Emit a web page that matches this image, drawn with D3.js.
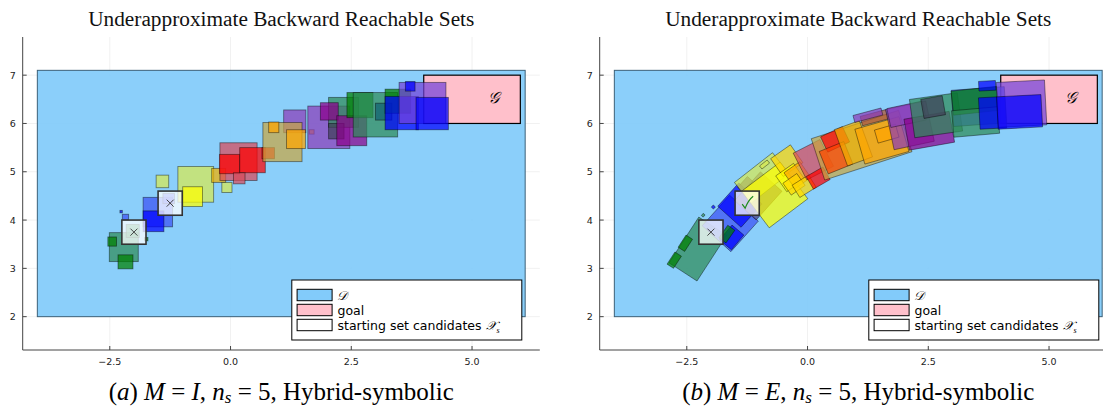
<!DOCTYPE html>
<html>
<head>
<meta charset="utf-8">
<script src="https://cdn.jsdelivr.net/npm/d3@7"></script>
<style>
body { margin: 0; background: #fff; }
text { font-family: "DejaVu Sans", sans-serif; }
.serif { font-family: "Liberation Serif", "Times New Roman", serif; }
</style>
</head>
<body>
<svg class="main" width="1103" height="410"></svg>
<script>
// domain D and goal G, as [x0, x1, y0, y1]
var domainBox = [-4, 6.1, 2, 7.1];
var goalBox = [4, 6, 6, 7];

var xTicks = [-2.5, 0, 2.5, 5];
var yTicks = [2, 3, 4, 5, 6, 7];

// starting set candidates, [x0, x1, y0, y1]
var startBoxes = [[-2.25, -1.75, 3.5, 4.0], [-1.5, -1.0, 4.1, 4.6]];
var startOkA = [false, false];
var startOkB = [false, true];

// (a) axis aligned boxes: [x0, x1, y0, y1, group]
var boxesA = [
    [-2.51, -1.91, 3.14, 3.74, "sg"],
    [-2.54, -2.36, 3.46, 3.65, "gr"],
    [-2.33, -2.02, 2.99, 3.28, "gr"],
    [-2.16, -1.89, 3.64, 3.91, "sg"],
    [-1.78, -1.71, 3.57, 3.64, "gr"],
    [-2.24, -2.11, 4.01, 4.12, "rb"],
    [-2.29, -2.24, 4.15, 4.20, "bl"],
    [-1.81, -1.20, 3.86, 4.47, "rb"],
    [-1.81, -1.38, 3.76, 4.19, "bl"],
    [-1.40, -1.16, 4.34, 4.55, "rb"],
    [-1.54, -1.28, 4.67, 4.93, "yg"],
    [-1.09, -0.35, 4.37, 5.11, "yg"],
    [-0.99, -0.58, 4.28, 4.69, "ye"],
    [-0.39, -0.10, 4.78, 5.07, "go"],
    [-0.18, 0.03, 4.57, 4.78, "yg"],
    [-0.22, 0.55, 4.82, 5.60, "ro"],
    [-0.23, 0.19, 4.96, 5.36, "re"],
    [0.19, 0.72, 4.98, 5.50, "re"],
    [0.06, 0.30, 4.75, 4.98, "ro"],
    [0.65, 0.91, 5.27, 5.50, "re"],
    [1.10, 1.56, 5.81, 6.28, "pu"],
    [0.67, 1.48, 5.21, 6.02, "tn"],
    [0.79, 1.00, 5.81, 6.03, "or"],
    [1.16, 1.55, 5.48, 5.87, "or"],
    [1.63, 1.73, 5.78, 5.87, "or"],
    [1.60, 2.47, 5.48, 6.36, "pu"],
    [2.03, 2.65, 5.92, 6.54, "sg"],
    [1.86, 2.23, 6.07, 6.43, "mg"],
    [2.03, 2.35, 5.68, 6.00, "gy"],
    [2.20, 2.82, 5.54, 6.16, "mg"],
    [2.41, 2.95, 6.12, 6.64, "gr"],
    [2.54, 3.46, 5.72, 6.64, "sg"],
    [3.00, 3.34, 6.07, 6.42, "te"],
    [3.20, 3.73, 6.21, 6.71, "gr"],
    [3.20, 3.89, 5.87, 6.56, "bl"],
    [3.49, 4.46, 6.00, 6.85, "sl"],
    [3.84, 4.51, 5.87, 6.54, "bl"],
    [3.62, 3.82, 6.67, 6.87, "bl"]
];

// (b) rotated boxes: [cx, cy, along, across, angle (deg), group]
var boxesB = [
    [-2.27, 3.40, 1.13, 0.69, 57, "sg"],
    [-2.76, 3.17, 0.30, 0.16, 57, "gr"],
    [-2.53, 3.52, 0.30, 0.16, 57, "gr"],
    [-1.60, 3.93, 0.85, 0.80, 48, "rb"],
    [-1.40, 4.31, 0.65, 0.65, 48, "bl"],
    [-1.57, 3.64, 0.40, 0.32, 50, "bl"],
    [-1.67, 3.71, 0.32, 0.18, 55, "gr"],
    [-1.95, 4.27, 0.06, 0.06, 48, "bl"],
    [-2.16, 4.10, 0.06, 0.05, 50, "sg"],
    [-1.02, 4.50, 0.80, 0.60, 48, "ds"],
    [-1.29, 4.74, 0.30, 0.15, 48, "ds"],
    [-0.95, 4.87, 1.00, 0.55, 38, "yg"],
    [-0.68, 4.52, 1.00, 0.95, 37, "ye"],
    [-0.89, 5.15, 0.20, 0.08, 38, "yg"],
    [-0.43, 5.23, 0.50, 0.45, 35, "gd"],
    [-0.36, 4.88, 0.45, 0.40, 35, "ye"],
    [-0.21, 4.93, 0.40, 0.40, 35, "or"],
    [-0.28, 4.74, 0.35, 0.30, 35, "gd"],
    [-0.07, 4.70, 0.40, 0.30, 32, "gd"],
    [0.12, 5.25, 0.62, 0.62, 27, "ro"],
    [0.22, 4.87, 0.40, 0.30, 30, "re"],
    [1.12, 5.55, 1.90, 0.90, 18, "tn"],
    [0.57, 5.67, 0.50, 0.35, 25, "re"],
    [0.59, 5.29, 0.55, 0.50, 22, "ob"],
    [0.95, 5.59, 0.55, 0.80, 20, "go"],
    [1.54, 5.65, 0.95, 0.75, 16, "or"],
    [1.64, 5.79, 0.45, 0.28, 16, "or"],
    [1.38, 6.12, 0.55, 0.20, 15, "si"],
    [1.25, 6.17, 0.60, 0.15, 15, "pu"],
    [2.12, 5.96, 0.85, 0.85, 12, "pu"],
    [2.05, 6.19, 0.75, 0.40, 12, "pu"],
    [2.52, 5.85, 0.95, 0.65, 10, "mg"],
    [2.66, 6.17, 1.00, 0.80, 8, "sg"],
    [2.60, 6.34, 0.45, 0.40, 10, "gy"],
    [3.55, 6.35, 1.10, 0.75, 4, "rb"],
    [3.47, 6.47, 0.95, 0.50, 6, "gr"],
    [3.48, 6.03, 0.95, 0.55, 5, "sg"],
    [3.72, 6.78, 0.35, 0.20, 3, "bl"],
    [3.83, 6.22, 0.55, 0.65, 3, "bl"],
    [4.43, 6.41, 1.00, 0.93, 3, "sl"],
    [4.39, 6.24, 0.92, 0.67, 3, "bl"]
];

var groups = ["sg", "gr", "bl", "rb", "yg", "ye", "gd", "go", "ro", "re", "ob", "or", "tn", "si", "pu", "mg", "gy", "te", "sl", "ds"];
var groupColours = ["#2e8b57", "#008000", "#0000ff", "#3a50f2", "#d7e950", "#ffff00", "#ffd700", "#f0b000", "#d84a5a", "#ff0000", "#ff4500", "#ffa500", "#c8a642", "#b05030", "#8a3cb8", "#8b008b", "#404058", "#106070", "#7341d9", "#483d8b"];

var legendLabels = ["D", "goal", "starting set candidates "];
var legendFills = ["#82cbfa", "#ffc0cb", "#ffffff"];

var title = "Underapproximate Backward Reachable Sets";

var svg = d3.select(".main");
var colour = d3.scaleOrdinal().domain(groups).range(groupColours);

var layout = {
    left: 22.7,
    right: 539.8,
    top: 37,
    bottom: 350,
    panelShift: 577
};

// x limits widened by 3%, y limits follow from equal aspect ratio
var xPad = (domainBox[1] - domainBox[0]) * 0.03;
var x = d3.scaleLinear()
    .domain([domainBox[0] - xPad, domainBox[1] + xPad])
    .range([layout.left, layout.right]);
var pxPerUnit = (layout.right - layout.left) / (domainBox[1] - domainBox[0] + 2 * xPad);
var yHalf = (layout.bottom - layout.top) / pxPerUnit / 2;
var yMid = (domainBox[2] + domainBox[3]) / 2;
var y = d3.scaleLinear()
    .domain([yMid - yHalf, yMid + yHalf])
    .range([layout.bottom, layout.top]);

function rectAttrs(sel, b) {
    sel.attr("x", x(b[0]))
        .attr("y", y(b[3]))
        .attr("width", x(b[1]) - x(b[0]))
        .attr("height", y(b[2]) - y(b[3]));
}

function rotatedPoints(d) {
    var t = d[4] * Math.PI / 180,
        c = Math.cos(t),
        s = Math.sin(t),
        a = d[2] / 2,
        b = d[3] / 2;

    return [[-a, -b], [a, -b], [a, b], [-a, b]].map(function(p) {
        var px = d[0] + p[0] * c - p[1] * s,
            py = d[1] + p[0] * s + p[1] * c;
        return x(px) + "," + y(py);
    }).join(" ");
}

function drawPanel(g, boxes, rotated, startOk, captionParts) {
    // grid
    g.selectAll(".gx")
        .data(xTicks)
        .enter()
        .append("line")
        .attr("x1", function(d) { return x(d); })
        .attr("x2", function(d) { return x(d); })
        .attr("y1", layout.top)
        .attr("y2", layout.bottom)
        .attr("stroke", "#000")
        .attr("stroke-opacity", 0.1)
        .attr("stroke-width", 0.6);

    g.selectAll(".gy")
        .data(yTicks)
        .enter()
        .append("line")
        .attr("x1", layout.left)
        .attr("x2", layout.right)
        .attr("y1", function(d) { return y(d); })
        .attr("y2", function(d) { return y(d); })
        .attr("stroke", "#000")
        .attr("stroke-opacity", 0.1)
        .attr("stroke-width", 0.6);

    g.append("rect")
        .call(rectAttrs, domainBox)
        .attr("fill", "#82cbfa")
        .attr("fill-opacity", 0.93)
        .attr("stroke", "#3b6078")
        .attr("stroke-width", 1);

    g.append("rect")
        .call(rectAttrs, goalBox)
        .attr("fill", "#ffc0cb")
        .attr("stroke", "#000")
        .attr("stroke-width", 1.2);

    // reachable boxes
    if (rotated) {
        g.selectAll(".box")
            .data(boxes)
            .enter()
            .append("polygon")
            .attr("points", rotatedPoints)
            .attr("fill", function(d) { return colour(d[5]); })
            .attr("fill-opacity", 0.72)
            .attr("stroke", "#000")
            .attr("stroke-opacity", 0.45)
            .attr("stroke-width", 0.9);
    } else {
        g.selectAll(".box")
            .data(boxes)
            .enter()
            .append("rect")
            .each(function(d) { d3.select(this).call(rectAttrs, d); })
            .attr("fill", function(d) { return colour(d[4]); })
            .attr("fill-opacity", 0.72)
            .attr("stroke", "#000")
            .attr("stroke-opacity", 0.45)
            .attr("stroke-width", 0.9);
    }

    // starting set candidates
    startBoxes.forEach(function(b, i) {
        g.append("rect")
            .call(rectAttrs, b)
            .attr("fill", "#fff")
            .attr("fill-opacity", 0.75)
            .attr("stroke", "#333")
            .attr("stroke-width", 1.6);

        var cx = x((b[0] + b[1]) / 2),
            cy = y((b[2] + b[3]) / 2);

        if (startOk[i]) {
            g.append("path")
                .attr("d", "M" + (cx - 5) + "," + (cy + 1) +
                    " L" + (cx - 2) + "," + (cy + 5) +
                    " Q" + (cx + 1) + "," + (cy - 3) + " " + (cx + 6) + "," + (cy - 7))
                .attr("fill", "none")
                .attr("stroke", "#1f8a1f")
                .attr("stroke-width", 1.2);
        } else {
            g.append("path")
                .attr("d", "M" + (cx - 3.5) + "," + (cy - 3.5) + " L" + (cx + 3.5) + "," + (cy + 3.5) +
                    " M" + (cx - 3.5) + "," + (cy + 3.5) + " L" + (cx + 3.5) + "," + (cy - 3.5))
                .attr("stroke", "#333")
                .attr("stroke-width", 0.9);
        }
    });

    g.append("text")
        .attr("class", "serif")
        .attr("x", x(5.45))
        .attr("y", y(6.52) + 5)
        .attr("text-anchor", "middle")
        .attr("font-size", 16)
        .attr("font-style", "italic")
        .text("\uD835\uDCA2");

    // axes
    g.append("line")
        .attr("x1", layout.left).attr("x2", layout.left)
        .attr("y1", layout.top).attr("y2", layout.bottom)
        .attr("stroke", "#444").attr("stroke-width", 1);
    g.append("line")
        .attr("x1", layout.left).attr("x2", layout.right)
        .attr("y1", layout.bottom).attr("y2", layout.bottom)
        .attr("stroke", "#444").attr("stroke-width", 1);

    xTicks.forEach(function(t) {
        g.append("line")
            .attr("x1", x(t)).attr("x2", x(t))
            .attr("y1", layout.bottom).attr("y2", layout.bottom - 4)
            .attr("stroke", "#444");
        g.append("text")
            .attr("x", x(t))
            .attr("y", layout.bottom + 15)
            .attr("text-anchor", "middle")
            .attr("font-size", 9.5)
            .attr("fill", "#222")
            .text(d3.format(".1f")(t).replace("-", "\u2212"));
    });

    yTicks.forEach(function(t) {
        g.append("line")
            .attr("x1", layout.left).attr("x2", layout.left + 4)
            .attr("y1", y(t)).attr("y2", y(t))
            .attr("stroke", "#444");
        g.append("text")
            .attr("x", layout.left - 7)
            .attr("y", y(t) + 3.5)
            .attr("text-anchor", "end")
            .attr("font-size", 9.5)
            .attr("fill", "#222")
            .text(t);
    });

    // legend
    var lg = g.append("g").attr("transform", "translate(" + (layout.right - 248) + ",280)");
    lg.append("rect")
        .attr("width", 230).attr("height", 60)
        .attr("fill", "#fff").attr("stroke", "#000").attr("stroke-width", 1);

    legendLabels.forEach(function(label, i) {
        lg.append("rect")
            .attr("x", 5.3).attr("y", 9.3 + i * 15)
            .attr("width", 35).attr("height", 11.4)
            .attr("fill", legendFills[i])
            .attr("stroke", "#000").attr("stroke-width", 1);

        var t = lg.append("text")
            .attr("x", 45.7)
            .attr("y", 19.5 + i * 15)
            .attr("font-size", 12.5);

        if (i === 0) {
            t.append("tspan").attr("class", "serif").attr("font-style", "italic").text("\uD835\uDC9F");
        } else {
            t.append("tspan").text(label);
        }
        if (i === 2) {
            t.append("tspan").attr("class", "serif").attr("font-style", "italic").text("\uD835\uDCB3");
            t.append("tspan").attr("class", "serif").attr("font-style", "italic")
                .attr("font-size", 8).attr("dy", 3).text("s");
        }
    });

    // title
    g.append("text")
        .attr("class", "serif")
        .attr("x", (layout.left + layout.right) / 2)
        .attr("y", 26)
        .attr("text-anchor", "middle")
        .attr("font-size", 21.3)
        .attr("fill", "#111")
        .text(title);

    // caption
    var cap = g.append("text")
        .attr("class", "serif")
        .attr("x", (layout.left + layout.right) / 2)
        .attr("y", 400)
        .attr("text-anchor", "middle")
        .attr("font-size", 25);

    captionParts.forEach(function(p) {
        var ts = cap.append("tspan").text(p[0]);
        if (p[1] === "i") ts.attr("font-style", "italic");
        if (p[1] === "sub") ts.attr("font-style", "italic").attr("font-size", 17).attr("dy", 3);
        if (p[1] === "up") ts.attr("dy", -3);
    });
}

var captionA = [["(", ""], ["a", "i"], [") ", ""], ["M", "i"], [" = ", ""], ["I", "i"], [", ", ""],
    ["n", "i"], ["s", "sub"], [" = 5, Hybrid-symbolic", "up"]];
var captionB = [["(", ""], ["b", "i"], [") ", ""], ["M", "i"], [" = ", ""], ["E", "i"], [", ", ""],
    ["n", "i"], ["s", "sub"], [" = 5, Hybrid-symbolic", "up"]];

drawPanel(svg.append("g"), boxesA, false, startOkA, captionA);
drawPanel(svg.append("g").attr("transform", "translate(" + layout.panelShift + ",0)"), boxesB, true, startOkB, captionB);
</script>
</body>
</html>
